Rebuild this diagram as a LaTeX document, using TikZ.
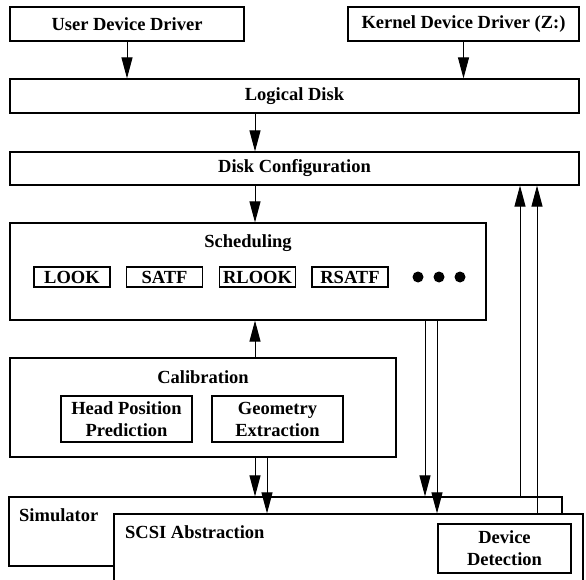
\documentclass[tikz,border=0pt]{standalone}
\usepackage{fontspec}
\setmainfont{Liberation Serif}
\usetikzlibrary{arrows.meta}

\begin{document}
\begin{tikzpicture}[x=1pt,y=-1pt]
\tikzset{every node/.style={font=\fontsize{18.5}{22}\selectfont\bfseries},
caja/.style={draw,rectangle,line width=1.2pt,inner sep=0pt,fill=white},
alg/.style={caja,minimum width=76pt,minimum height=20pt},
punto/.style={circle,fill=black,inner sep=0pt,minimum size=11pt},
flecha/.style={line width=1pt,-{Triangle[length=21pt,width=11pt]}}}
\useasboundingbox (0,0) rectangle (586,580);
\clip (0,0) rectangle (586,580);

% Controladores
\node (udd) at (127,24) [caja,minimum width=234pt,minimum height=34pt] {User Device Driver};
\node (kdd) at (463.5,24) [caja,minimum width=231pt,minimum height=34pt] {Kernel Device Driver (Z:)};
\node (ld) at (294.5,96) [caja,minimum width=569pt,minimum height=34pt] {Logical Disk};
\node (dc) at (294.5,168.5) [caja,minimum width=569pt,minimum height=33pt] {Disk Configuration};
% Planificacion
\node (sched) at (248,271.5) [caja,minimum width=476pt,minimum height=97pt] {};
\node (schedt) at (248,243) {Scheduling};
\node (look) at (72,277) [alg] {LOOK};
\node (satf) at (164.5,277) [alg] {SATF};
\node (rlook) at (257.5,277) [alg] {RLOOK};
\node (rsatf) at (350,277) [alg] {RSATF};
\node (p1) at (418,277) [punto] {};
\node (p2) at (439,277) [punto] {};
\node (p3) at (460,277) [punto] {};
% Calibracion
\node (cal) at (203,407.5) [caja,minimum width=386pt,minimum height=99pt] {};
\node (calt) at (203,377) {Calibration};
\node (hpp) at (126.5,419) [caja,align=center,minimum width=131pt,minimum height=46pt] {Head Position\\Prediction};
\node (ge) at (277.5,419) [caja,align=center,minimum width=131pt,minimum height=46pt] {Geometry\\Extraction};
% Simulador
\node (sim) at (285.5,531.5) [caja,minimum width=553pt,minimum height=69pt] {};
\node (simt) at (19,515) [anchor=west,inner sep=0pt] {Simulator};
\node (scsi) at (348.5,557) [caja,minimum width=469pt,minimum height=86pt] {};
\node (scsit) at (125,532) [anchor=west,inner sep=0pt] {SCSI Abstraction};
\node (dd) at (504.5,548.5) [caja,align=center,minimum width=133pt,minimum height=49pt] {Device\\Detection};
% columnas de las flechas
\coordinate (x1) at (255,0);
\coordinate (x2) at (267,0);
\coordinate (x3) at (425,0);
\coordinate (x4) at (437,0);
\coordinate (x5) at (520,0);
\coordinate (x6) at (537,0);

\path
(udd.south) edge [flecha] (udd.south |- ld.north)
(kdd.south) edge [flecha] (kdd.south |- ld.north)
(ld.south -| x1) edge [flecha] (dc.north -| x1)
(dc.south -| x1) edge [flecha] (sched.north -| x1)
(cal.north -| x1) edge [flecha] (sched.south -| x1)
(cal.south -| x1) edge [flecha] (sim.north -| x1)
(cal.south -| x2) edge [flecha] (scsi.north -| x2)
(sched.south -| x3) edge [flecha] (sim.north -| x3)
(sched.south -| x4) edge [flecha] (scsi.north -| x4)
(sim.north -| x5) edge [flecha] (dc.south -| x5)
(scsi.north -| x6) edge [flecha] (dc.south -| x6);

\end{tikzpicture}
\end{document}
